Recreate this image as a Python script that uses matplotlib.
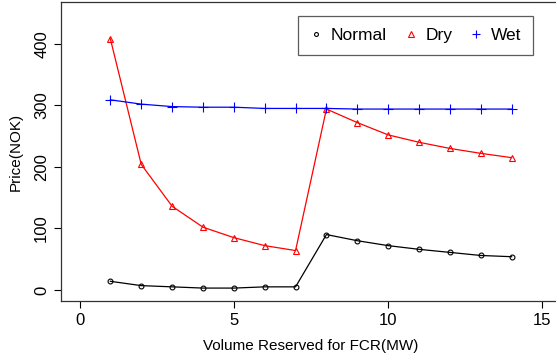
import matplotlib
matplotlib.use("Agg")
import matplotlib.pyplot as plt

plt.rcParams['font.family'] = ['Liberation Sans', 'DejaVu Sans']

# data
volume = [1, 2, 3, 4, 5, 6, 7, 8, 9, 10, 11, 12, 13, 14]
normal = [14, 7, 5, 3, 3, 5, 5, 90, 80, 72, 66, 61, 56, 54]
dry = [408, 204, 136, 102, 85, 72, 64, 294, 272, 252, 240, 230, 222, 215]
wet = [309, 302, 298, 297, 297, 295, 295, 295, 294, 294, 294, 294, 294, 294]

x_ticks = [0, 5, 10, 15]
y_ticks = [0, 100, 200, 300, 400]

fig = plt.figure(figsize=(5.56, 3.6), dpi=100)
ax = fig.add_axes([61 / 556, 59 / 360, 500 / 556, 299 / 360])

ax.plot(volume, normal, color='black', lw=0.9, marker='o', ms=3.5,
        mfc='none', mew=0.8, label='Normal')
ax.plot(volume, dry, color='red', lw=0.9, marker='^', ms=5,
        mfc='none', mew=0.8, label='Dry')
ax.plot(volume, wet, color='blue', lw=0.9, marker='+', ms=7,
        mew=0.8, label='Wet')

ax.set_xlim(-0.6, 15.6)
ax.set_ylim(-18, 468)
ax.set_xticks(x_ticks)
ax.set_yticks(y_ticks)
ax.tick_params(labelsize=12, length=5, width=0.8, direction='out')
for lab in ax.get_yticklabels():
    lab.set_rotation(90)
    lab.set_va('center')
for sp in ax.spines.values():
    sp.set_linewidth(0.9)
    sp.set_color('#333333')

ax.set_xlabel('Volume Reserved for FCR(MW)', fontsize=11, labelpad=8)
ax.set_ylabel('Price(NOK)', fontsize=11, labelpad=8)

leg = ax.legend(ncol=3, loc='upper left', bbox_to_anchor=(237 / 500, 1 - 14 / 299),
                borderaxespad=0, fontsize=12.5, frameon=True, fancybox=False,
                edgecolor='#333333', handlelength=0.7, handletextpad=0.5,
                columnspacing=1.0, borderpad=0.7, markerscale=0.8)
leg.get_frame().set_linewidth(0.9)
for h in leg.get_lines():
    h.set_linestyle('none')

fig.savefig('out.png', dpi=100)
